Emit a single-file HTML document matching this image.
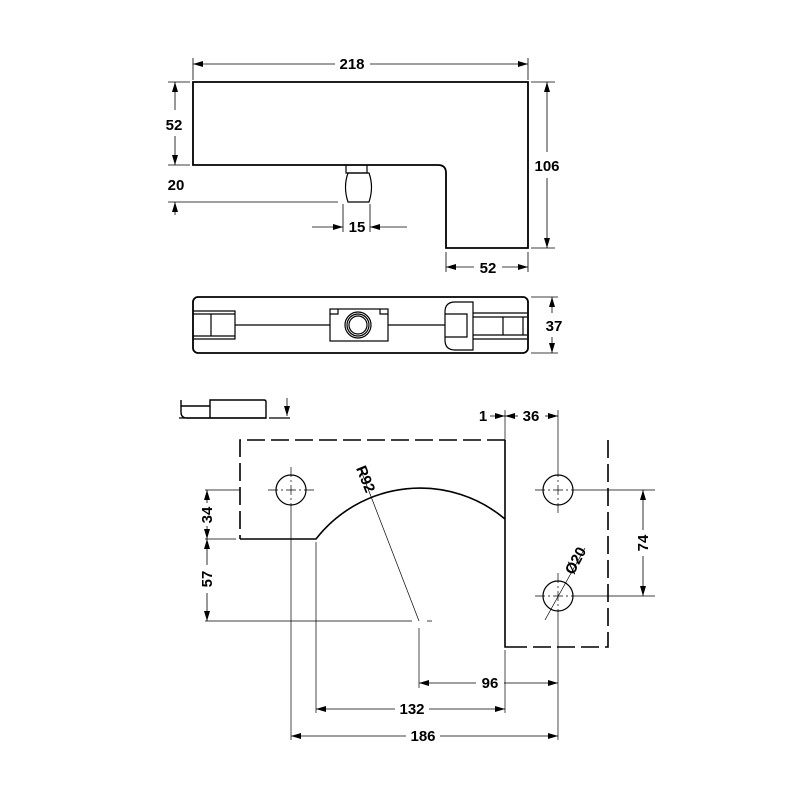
<!DOCTYPE html>
<html><head><style>html,body{margin:0;padding:0;background:#fff}svg{display:block}</style></head><body>
<svg width="800" height="800" viewBox="0 0 800 800" xmlns="http://www.w3.org/2000/svg" font-family="Liberation Sans, sans-serif" font-weight="bold" font-size="15">
<defs>
<marker id="a" viewBox="0 0 10 6" refX="10" refY="3" markerWidth="10" markerHeight="6" markerUnits="userSpaceOnUse" orient="auto"><path d="M0,0L10,3L0,6z" fill="#000"/></marker>
<marker id="b" viewBox="0 0 10 6" refX="0" refY="3" markerWidth="10" markerHeight="6" markerUnits="userSpaceOnUse" orient="auto"><path d="M10,0L0,3L10,6z" fill="#000"/></marker>
</defs>
<g fill="none" stroke="#000" stroke-width="1.8">
<path d="M193,82H528V248H446V173Q446,165 438,165H193Z"/>
<path d="M346,165V173H367V165" stroke-width="1.2"/>
<path d="M348,173H369Q374,187 369,202H348Q343,187 348,173Z" stroke-width="1.2"/>
<rect x="193" y="297" width="335" height="56" rx="5"/>
</g>
<g fill="none" stroke="#000" stroke-width="1.2">
<path d="M193,311H235V339H193M193,314H235M193,336H235M211,314V336"/>
<path d="M235,325H330M388,325H445"/>
<rect x="330" y="309" width="58" height="32"/>
<path d="M330,314H338V309M388,314H380V309"/>
<circle cx="358" cy="325" r="13"/><circle cx="358" cy="325" r="11"/><circle cx="358" cy="325" r="9"/>
<path d="M473,302H455Q445,302 445,312V340Q445,350 455,350H473Z"/>
<path d="M445,314H467V337H445"/>
<path d="M473,313H527M473,317H527M473,335H527M473,339H527M503,317V335M523,317V335"/>
<path d="M181,400V412Q181,418 187,418H210V406H181M210,406V400H264Q266,400 266,402V418H210" stroke-width="1.4"/>
<path d="M179,418H266M269,418H290"/>
</g>
<g stroke="#000" stroke-width="0.8" fill="none">
<path d="M193,58V80M528,58V80"/>
<path d="M193,64H335M370,64H528" marker-start="url(#b)" marker-end="url(#a)"/>
<path d="M168,82H190M168,165H190"/>
<path d="M175,82V110M175,136V165" marker-start="url(#b)" marker-end="url(#a)"/>
<path d="M168,202H338"/>
<path d="M175,215V202" marker-end="url(#a)"/>
<path d="M343,204V232M370,204V232"/>
<path d="M312,227H343" marker-end="url(#a)"/><path d="M407,227H370" marker-end="url(#a)"/>
<path d="M531,82H555M531,248H555"/>
<path d="M547,82V152M547,178V248" marker-start="url(#b)" marker-end="url(#a)"/>
<path d="M446,252V272M528,252V272"/>
<path d="M446,267H474M502,267H528" marker-start="url(#b)" marker-end="url(#a)"/>
<path d="M531,297H558M531,353H558"/>
<path d="M552,297V313M552,337V353" marker-start="url(#b)" marker-end="url(#a)"/>
<path d="M287,398V416" marker-end="url(#a)"/>
</g>
<g text-anchor="middle">
<text x="352" y="69">218</text>
<text x="174" y="130">52</text>
<text x="176" y="190">20</text>
<text x="357" y="232">15</text>
<text x="547" y="171">106</text>
<text x="488" y="273">52</text>
<text x="554" y="331">37</text>
</g>
<g fill="none" stroke="#000" stroke-width="1.6">
<path d="M505,440V647H520"/>
<path d="M505,440H240V539M608,440V647H520" stroke-dasharray="18,6"/>
<path d="M240,539H316A132,132 0 0 1 505,519"/>
<circle cx="291" cy="490" r="15" stroke-width="1.2"/>
<circle cx="558" cy="490" r="15" stroke-width="1.2"/>
<circle cx="558" cy="596" r="15" stroke-width="1.2"/>
</g>
<g fill="none" stroke="#000" stroke-width="0.7">
<path d="M268,490H314M291,467V513M535,490H581M558,467V513M535,596H581M558,573V619" stroke-dasharray="10,3,2,3"/>
<path d="M205,490H240M205,539H236M205,621H412M427,621H432M581,490H655M581,596H655"/>
<path d="M291,513V740M316,542V713M419,628V688M505,650V713M558,619V740M558,410V467M505,410V440"/>
<path d="M419,621L360,468"/>
<path d="M545,620L585,548"/>
</g>
<g stroke="#000" stroke-width="0.8" fill="none">
<path d="M207,490V503M207,526V539" marker-start="url(#b)" marker-end="url(#a)"/>
<path d="M207,539V565M207,593V621" marker-start="url(#b)" marker-end="url(#a)"/>
<path d="M643,490V530M643,556V596" marker-start="url(#b)" marker-end="url(#a)"/>
<path d="M490,416H505" marker-end="url(#a)"/>
<path d="M518,416H505" marker-end="url(#a)"/>
<path d="M545,416H558" marker-end="url(#a)"/>
<path d="M419,683H476M504,683H558" marker-start="url(#b)" marker-end="url(#a)"/>
<path d="M316,709H395M429,709H505" marker-start="url(#b)" marker-end="url(#a)"/>
<path d="M291,736H406M440,736H558" marker-start="url(#b)" marker-end="url(#a)"/>
</g>
<g text-anchor="middle">
<text x="483" y="421">1</text>
<text x="531" y="421">36</text>
<text x="490" y="688">96</text>
<text x="412" y="714">132</text>
<text x="423" y="741">186</text>
<text transform="translate(212,515) rotate(-90)">34</text>
<text transform="translate(212,579) rotate(-90)">57</text>
<text transform="translate(648,543) rotate(-90)">74</text>
<text transform="translate(361,481) rotate(68)">R92</text>
<text transform="translate(580,563) rotate(-62)">Ø20</text>
</g>
</svg>
</body></html>
